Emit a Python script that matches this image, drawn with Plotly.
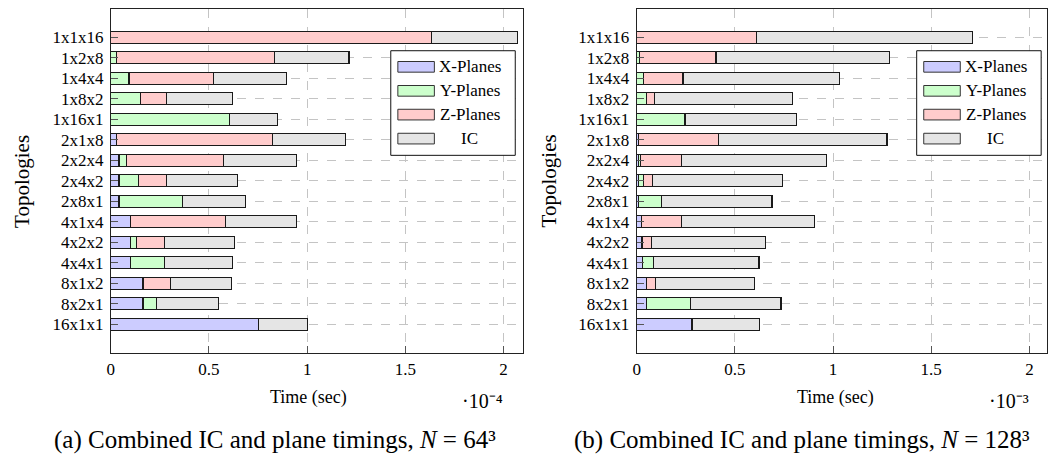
import plotly.graph_objects as go

# ---------------- data ----------------
topologies = ["1x1x16", "1x2x8", "1x4x4", "1x8x2", "1x16x1", "2x1x8", "2x2x4", "2x4x2",
              "2x8x1", "4x1x4", "4x2x2", "4x4x1", "8x1x2", "8x2x1", "16x1x1"]

# N = 64^3, time in units of 1e-4 s
a_x = [0, 0, 0, 0, 0, 0.030, 0.042, 0.042, 0.042, 0.101, 0.101, 0.101, 0.164, 0.164, 0.752]
a_y = [0, 0.030, 0.093, 0.152, 0.603, 0, 0.039, 0.100, 0.321, 0, 0.031, 0.173, 0, 0.069, 0]
a_z = [1.632, 0.803, 0.429, 0.132, 0, 0.793, 0.492, 0.140, 0, 0.482, 0.142, 0, 0.140, 0, 0]
a_ic = [0.441, 0.380, 0.374, 0.334, 0.247, 0.373, 0.375, 0.364, 0.323, 0.365, 0.358, 0.346, 0.309, 0.316, 0.249]

# N = 128^3, time in units of 1e-3 s
b_x = [0, 0, 0, 0, 0, 0.008, 0.008, 0.008, 0.008, 0.025, 0.025, 0.028, 0.051, 0.051, 0.282]
b_y = [0, 0.013, 0.034, 0.049, 0.246, 0, 0.010, 0.026, 0.117, 0, 0.007, 0.056, 0, 0.221, 0]
b_z = [0.610, 0.391, 0.202, 0.044, 0, 0.411, 0.210, 0.045, 0, 0.205, 0.042, 0, 0.047, 0, 0]
b_ic = [1.100, 0.885, 0.796, 0.701, 0.568, 0.856, 0.738, 0.664, 0.564, 0.674, 0.583, 0.539, 0.500, 0.463, 0.345]

series_names = ["X-Planes", "Y-Planes", "Z-Planes", "IC"]
x_ticks = [0, 0.5, 1, 1.5, 2]
x_ticklabels = ["0", "0.5", "1", "1.5", "2"]

# ---------------- style ----------------
W, H = 1048, 463
FONT = "'Liberation Serif', 'Times New Roman', Times, serif"
colors = ["#ccccff", "#ccffcc", "#ffcccc", "#e5e5e5"]
OUT = "#1a1a1a"
GRID = "#c4c4c4"

def px(x):
    return x / W

def py(y):
    return 1 - y / H

rows = list(range(len(topologies)))

fig = go.Figure()
for axis_idx, data in enumerate([(a_x, a_y, a_z, a_ic), (b_x, b_y, b_z, b_ic)]):
    xa = "x" if axis_idx == 0 else "x2"
    ya = "y" if axis_idx == 0 else "y2"
    for name, col, vals in zip(series_names, colors, data):
        fig.add_trace(go.Bar(
            y=rows, x=vals, orientation="h", name=name,
            marker=dict(color=col, line=dict(color=OUT, width=1.1)),
            width=0.58, xaxis=xa, yaxis=ya, showlegend=False,
            hovertemplate="%{x}<extra>" + name + "</extra>",
        ))

ydom = [py(353.3), py(9.3)]
yrange = [15.41, -1.366]

axis_common = dict(
    showline=True, linecolor="#222", linewidth=1, mirror=True,
    ticks="inside", ticklen=7, tickcolor="#555", tickwidth=1,
    showgrid=True, gridcolor=GRID, griddash="dash", gridwidth=1,
    zeroline=False, tickfont=dict(family=FONT, size=17, color="black"),
)

fig.update_layout(
    width=W, height=H, margin=dict(l=0, r=0, t=0, b=0),
    paper_bgcolor="white", plot_bgcolor="white",
    barmode="stack", showlegend=False,
    font=dict(family=FONT, size=17, color="black"),
    xaxis=dict(domain=[px(107.3), px(521.6)], range=[0, 2.1], anchor="y",
               tickvals=x_ticks, ticktext=x_ticklabels, **axis_common),
    yaxis=dict(domain=ydom, range=yrange, anchor="x",
               tickvals=rows, ticktext=topologies, ticklabelstandoff=3, **axis_common),
    xaxis2=dict(domain=[px(635.7), 1.0], range=[0, (W - 635.7) / 197.3], anchor="y2",
                tickvals=x_ticks, ticktext=x_ticklabels, **axis_common),
    yaxis2=dict(domain=ydom, range=yrange, anchor="x2",
                tickvals=rows, ticktext=topologies, ticklabelstandoff=3, **axis_common),
)

# ---------------- legends (drawn in axis data coordinates) ----------------
shapes = []
annotations = []
leg_box = dict(x0=1.426, x1=2.060, y0=0.654, y1=5.756)
sw_x0, sw_x1, sw_h = 1.462, 1.648, 0.26
text_x = 1.828
entry_y = [1.44, 2.61, 3.77, 4.94]
for xa, ya in [("x", "y"), ("x2", "y2")]:
    shapes.append(dict(type="rect", xref=xa, yref=ya, layer="above",
                       fillcolor="white", line=dict(color="#111", width=1), **leg_box))
    for name, col, ey in zip(series_names, colors, entry_y):
        shapes.append(dict(type="rect", xref=xa, yref=ya, layer="above",
                           x0=sw_x0, x1=sw_x1, y0=ey - sw_h, y1=ey + sw_h,
                           fillcolor=col, line=dict(color="#333", width=1)))
        annotations.append(dict(xref=xa, yref=ya, x=text_x, y=ey, text=name,
                                showarrow=False, xanchor="center", yanchor="middle",
                                font=dict(family=FONT, size=17, color="black")))

# ---------------- axis titles and captions ----------------
def ann(x, y, text, size=17, angle=0):
    annotations.append(dict(xref="paper", yref="paper", x=px(x), y=py(y), text=text,
                            showarrow=False, xanchor="center", yanchor="middle",
                            textangle=angle, font=dict(family=FONT, size=size, color="black")))

ann(18, 181, "Topologies", size=21, angle=-90)
ann(548, 181, "Topologies", size=21, angle=-90)
ann(306, 397, "Time (sec)", size=18)
ann(835, 397, "Time (sec)", size=18)
ann(481, 401, "·10⁻⁴", size=20)
ann(1010, 401, "·10⁻³", size=20)
ann(272, 440, "(a) Combined IC and plane timings, <i>N</i> = 64³", size=25)
ann(802, 440, "(b) Combined IC and plane timings, <i>N</i> = 128³", size=25)

fig.update_layout(shapes=shapes, annotations=annotations)
fig.write_html("out.html")
